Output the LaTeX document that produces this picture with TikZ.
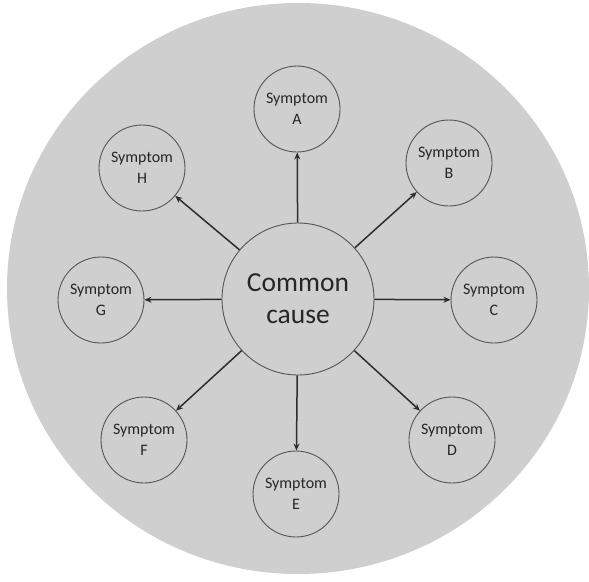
\documentclass[tikz,border=0pt]{standalone}
\usepackage{fontspec}
\setmainfont{Carlito}
\usetikzlibrary{arrows.meta}
\definecolor{bggray}{RGB}{208,207,207}
\definecolor{linegray}{RGB}{45,45,45}
\definecolor{circgray}{RGB}{85,85,85}
\tikzset{
  symptom/.style={circle, draw=circgray, line width=0.9pt, minimum size=86pt, inner sep=0pt, align=center, text=black!85,
    font=\fontsize{16}{21}\selectfont},
  cause/.style={circle, draw=circgray, line width=0.9pt, minimum size=152pt, inner sep=0pt, align=center, text=black!85,
    font=\fontsize{27.5}{32}\selectfont},
  link/.style={draw=linegray, line width=1.5pt, -{Stealth[length=7pt,width=6pt]}}
}
\begin{document}
\begin{tikzpicture}[x=1pt,y=-1pt]
\useasboundingbox (0,0) rectangle (589,581);
\fill[white] (0,0) rectangle (589,581);
\fill[bggray] (298,288.5) ellipse [x radius=291, y radius=285.5];
\node[cause] (cc) at (298,299) {Common\\cause};
\node[symptom] (A) at (297,109) {Symptom\\A};
\node[symptom] (B) at (449,163) {Symptom\\B};
\node[symptom] (C) at (494,300) {Symptom\\C};
\node[symptom] (D) at (452,440) {Symptom\\D};
\node[symptom] (E) at (296,494) {Symptom\\E};
\node[symptom] (F) at (144,440) {Symptom\\F};
\node[symptom] (G) at (101,300) {Symptom\\G};
\node[symptom] (H) at (142,168) {Symptom\\H};
\foreach \s in {A,B,C,D,E,F,G,H}
  \draw[link] (cc) -- (\s);
\end{tikzpicture}
\end{document}
